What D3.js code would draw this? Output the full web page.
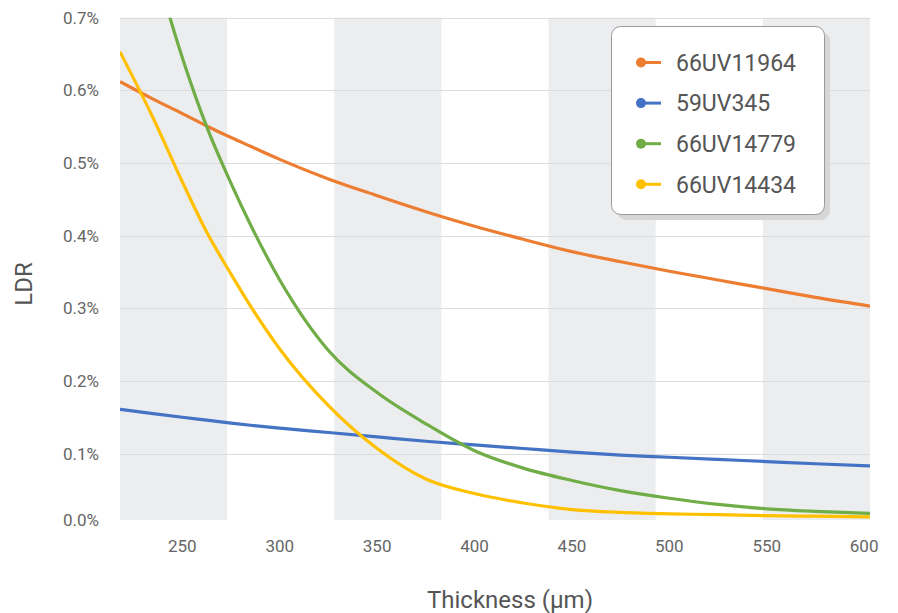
<!DOCTYPE html>
<html>
<head>
<meta charset="utf-8">
<script src="https://cdn.jsdelivr.net/npm/d3@7"></script>
<style>
    body { margin: 0; background: #fff; }
    svg { display: block; font-family: Roboto, "DejaVu Sans", sans-serif; }
    .grid line { stroke: #dcdcdc; stroke-width: 1; }
    .tick-label { fill: #666; font-size: 17px; }
    .axis-title { fill: #555; font-size: 24px; }
    .legend-text { fill: #555; font-size: 23px; }
</style>
</head>
<body>
<svg id="chart" width="898" height="613"></svg>
<script>
// thickness in um
var thickness = [218, 235, 250, 262.5, 275, 285, 300, 325, 350, 375, 400, 425, 450, 475, 500, 525, 550, 575, 603];

var seriesNames = ["66UV11964", "59UV345", "66UV14779", "66UV14434"];
var seriesColors = ["#ED7D31", "#4472C4", "#70AD47", "#FFC000"];

// LDR in %
var ldr66UV11964 = [0.612, 0.588, 0.568, 0.551, 0.535, 0.523, 0.505, 0.478, 0.455, 0.433, 0.413, 0.395, 0.378, 0.364, 0.351, 0.339, 0.327, 0.315, 0.303];
var ldr59UV345   = [0.161, 0.155, 0.150, 0.146, 0.142, 0.139, 0.135, 0.129, 0.123, 0.117, 0.112, 0.107, 0.102, 0.098, 0.095, 0.092, 0.089, 0.086, 0.083];
var ldr66UV14779 = [0.95, 0.78, 0.645, 0.55, 0.472, 0.415, 0.339, 0.242, 0.184, 0.141, 0.104, 0.080, 0.063, 0.049, 0.0385, 0.030, 0.024, 0.0205, 0.0178];
var ldr66UV14434 = [0.653, 0.562, 0.474, 0.405, 0.347, 0.303, 0.244, 0.166, 0.107, 0.065, 0.045, 0.032, 0.023, 0.019, 0.017, 0.016, 0.0145, 0.0138, 0.013];

var xTicks = [250, 300, 350, 400, 450, 500, 550, 600];
var yTicks = [0.0086, 0.1, 0.2, 0.3, 0.4, 0.5, 0.6, 0.7];

var allSeries = [ldr66UV11964, ldr59UV345, ldr66UV14779, ldr66UV14434];

var svg = d3.select("#chart");
var plotLeft = 120, plotRight = 870, plotTop = 17.7, plotBottom = 520;

var x = d3.scaleLinear().domain([218, 603]).range([plotLeft, plotRight]);
var y = d3.scaleLinear().domain([0.0086, 0.7]).range([plotBottom, plotTop]);

// alternating background bands, 7 equal stripes
var bandCount = 7;
var bandW = (plotRight - plotLeft) / bandCount;
svg.append("g").selectAll("rect")
    .data(d3.range(bandCount).filter(function(i) { return i % 2 === 0; }))
    .enter().append("rect")
    .attr("x", function(i) { return plotLeft + i * bandW; })
    .attr("y", plotTop)
    .attr("width", bandW)
    .attr("height", plotBottom - plotTop)
    .attr("fill", "#ECEDEF");

// horizontal grid
svg.append("g").attr("class", "grid").selectAll("line")
    .data(yTicks.slice(1))
    .enter().append("line")
    .attr("x1", plotLeft).attr("x2", plotRight)
    .attr("y1", function(d) { return Math.round(y(d)) + 0.5; })
    .attr("y2", function(d) { return Math.round(y(d)) + 0.5; });

// y tick labels
svg.append("g").selectAll("text")
    .data(yTicks)
    .enter().append("text")
    .attr("class", "tick-label")
    .attr("x", 99)
    .attr("y", function(d) { return y(d); })
    .attr("dy", "0.35em")
    .attr("text-anchor", "end")
    .text(function(d) { return d3.format(".1f")(d) + "%"; });

// x tick labels
svg.append("g").selectAll("text")
    .data(xTicks)
    .enter().append("text")
    .attr("class", "tick-label")
    .attr("x", function(d) { return x(d); })
    .attr("y", 551.5)
    .attr("text-anchor", "middle")
    .text(function(d) { return d; });

svg.append("clipPath").attr("id", "plot-clip")
    .append("rect")
    .attr("x", plotLeft).attr("y", plotTop)
    .attr("width", plotRight - plotLeft).attr("height", plotBottom - plotTop + 4);

var line = d3.line()
    .x(function(d, i) { return x(thickness[i]); })
    .y(function(d) { return y(d); })
    .curve(d3.curveMonotoneX);

svg.append("g").attr("clip-path", "url(#plot-clip)")
    .selectAll("path")
    .data(allSeries)
    .enter().append("path")
    .attr("d", line)
    .attr("fill", "none")
    .attr("stroke", function(d, i) { return seriesColors[i]; })
    .attr("stroke-width", 3.2)
    .attr("stroke-linejoin", "round");

// axis titles
svg.append("text")
    .attr("class", "axis-title")
    .attr("transform", "translate(32,284) rotate(-90)")
    .attr("text-anchor", "middle")
    .text("LDR");

svg.append("text")
    .attr("class", "axis-title")
    .attr("x", 510)
    .attr("y", 608)
    .attr("text-anchor", "middle")
    .text("Thickness (µm)");

// legend
var legend = svg.append("g");
legend.append("rect")
    .attr("x", 617).attr("y", 32)
    .attr("width", 213).attr("height", 188)
    .attr("rx", 9)
    .attr("fill", "#d6d6d6");
legend.append("rect")
    .attr("x", 611.5).attr("y", 26.5)
    .attr("width", 213).attr("height", 188)
    .attr("rx", 9)
    .attr("fill", "#fff")
    .attr("stroke", "#9a9a9a")
    .attr("stroke-width", 1);

var item = legend.selectAll(".item")
    .data(seriesNames)
    .enter().append("g")
    .attr("class", "item")
    .attr("transform", function(d, i) { return "translate(0," + (62.5 + i * 40.6) + ")"; });

item.append("line")
    .attr("x1", 641).attr("x2", 661)
    .attr("stroke", function(d, i) { return seriesColors[i]; })
    .attr("stroke-width", 3);
item.append("circle")
    .attr("cx", 641).attr("r", 5)
    .attr("fill", function(d, i) { return seriesColors[i]; });
item.append("text")
    .attr("class", "legend-text")
    .attr("x", 676)
    .attr("dy", "0.36em")
    .text(function(d) { return d; });
</script>
</body>
</html>
